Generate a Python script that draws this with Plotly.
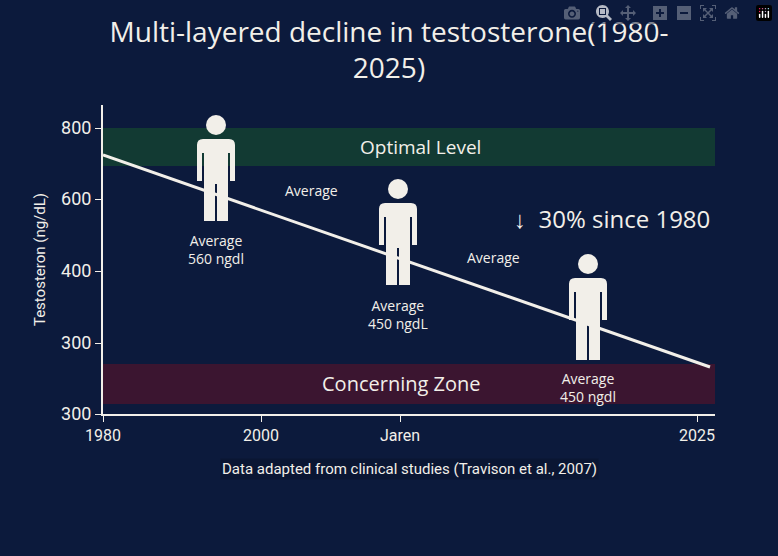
import plotly.graph_objects as go

# axis layout (plot area is 612 x 309 units, one unit per pixel)
x_tickvals = [0, 158, 297, 594]
x_ticktext = ["1980", "2000", "Jaren", "2025"]
y_tickvals = [0, 71, 143, 215, 286]
y_ticktext = ["300", "300", "400", "600", "800"]

# trend line
trend_x = [0, 607]
trend_y = [259, 47]

# zones
optimal_band = [248, 286]
concern_band = [10, 50]

# people: x center, head y, label lines, label y
people_x = [113, 295, 485]
people_head = [289, 225, 150]
people_labels = ["Average<br>560 ngdl", "Average<br>450 ngdL", "Average<br>450 ngdl"]
people_label_y = [165, 100, 27]

avg_x = [208, 390]
avg_y = [224, 157]

BG = "#0c1a3c"
FG = "#f2efe9"

fig = go.Figure()
fig.add_trace(go.Scatter(x=trend_x, y=trend_y, mode="lines",
                         line=dict(color=FG, width=3), showlegend=False, hoverinfo="skip"))

shapes = [
    dict(type="rect", x0=0, x1=612, y0=optimal_band[0], y1=optimal_band[1],
         fillcolor="#123a33", line_width=0, layer="below"),
    dict(type="rect", x0=0, x1=612, y0=concern_band[0], y1=concern_band[1],
         fillcolor="#3b1530", line_width=0, layer="below"),
]
for cx, hy in zip(people_x, people_head):
    r = 10
    shapes.append(dict(type="circle", x0=cx - r, x1=cx + r, y0=hy - r, y1=hy + r,
                       fillcolor=FG, line_width=0))
    top = hy - 14
    # torso with arms
    shapes.append(dict(type="path",
                       path=f"M{cx-19},{top-42} L{cx-19},{top-6} Q{cx-19},{top} {cx-13},{top} "
                            f"L{cx+13},{top} Q{cx+19},{top} {cx+19},{top-6} L{cx+19},{top-42} "
                            f"L{cx+14},{top-42} L{cx+14},{top-14} L{cx-14},{top-14} L{cx-14},{top-42} Z",
                       fillcolor=FG, line_width=0))
    shapes.append(dict(type="rect", x0=cx - 12, x1=cx + 12, y0=top - 45, y1=top - 6,
                       fillcolor=FG, line_width=0))
    shapes.append(dict(type="rect", x0=cx - 12, x1=cx - 1, y0=top - 82, y1=top - 44,
                       fillcolor=FG, line_width=0))
    shapes.append(dict(type="rect", x0=cx + 1, x1=cx + 12, y0=top - 82, y1=top - 44,
                       fillcolor=FG, line_width=0))

WIDE = "Open Sans"
ann = [
    dict(x=317, y=267, text="Optimal Level", font=dict(size=19, color=FG, family=WIDE)),
    dict(x=298, y=31, text="Concerning Zone", font=dict(size=20, color=FG, family=WIDE)),
    dict(x=509, y=196, text="↓  30% since 1980", font=dict(size=24, color=FG, family=WIDE)),
]
for x, y in zip(avg_x, avg_y):
    ann.append(dict(x=x, y=y, text="Average", font=dict(size=14, color=FG, family=WIDE)))
for x, y, t in zip(people_x, people_label_y, people_labels):
    ann.append(dict(x=x, y=y, text=t, font=dict(size=14, color=FG, family=WIDE)))
for a in ann:
    a.update(showarrow=False, xref="x", yref="y")
ann.append(dict(x=0.5, y=-0.215, xref="paper", yref="paper", showarrow=False,
                text="Data adapted from clinical studies (Travison et al., 2007)",
                font=dict(size=15, color=FG), bgcolor="#0a1633"))

fig.update_layout(
    width=778, height=556, paper_bgcolor=BG, plot_bgcolor=BG,
    margin=dict(l=103, r=63, t=105, b=142),
    font=dict(family="Roboto", color=FG),
    title=dict(text="Multi-layered decline in testosterone(1980-<br>2025)",
               x=0.5, xanchor="center", y=0.925, yanchor="middle",
               font=dict(size=28, color=FG, family=WIDE)),
    shapes=shapes, annotations=ann,
    xaxis=dict(range=[0, 612], tickvals=x_tickvals, ticktext=x_ticktext, showgrid=False,
               zeroline=False, showline=True, linecolor=FG, linewidth=2, ticks="outside",
               ticklen=6, tickcolor=FG, tickfont=dict(size=16)),
    yaxis=dict(range=[0, 309], tickvals=y_tickvals, ticktext=y_ticktext, showgrid=False,
               zeroline=False, showline=True, linecolor=FG, linewidth=2, ticks="outside",
               ticklen=6, tickcolor=FG, tickfont=dict(size=18),
               title=dict(text="Testosteron (ng/dL)", font=dict(size=15), standoff=12)),
)
fig.write_html("out.html", post_script="document.body.style.margin='0';")
